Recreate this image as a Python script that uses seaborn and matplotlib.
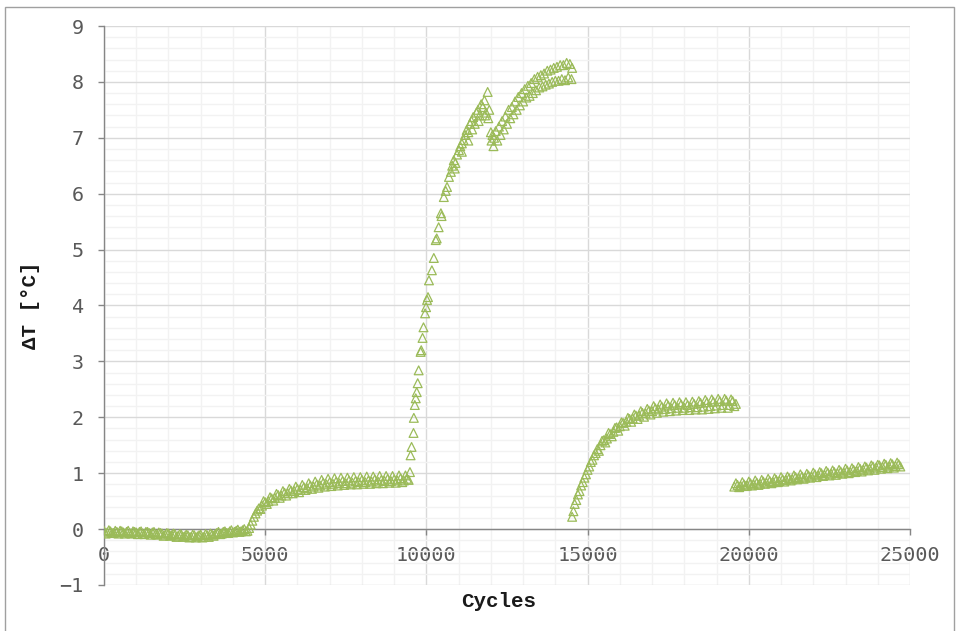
import pandas as pd
import matplotlib
matplotlib.use("Agg")
import matplotlib.pyplot as plt
from matplotlib.ticker import MultipleLocator
from matplotlib.patches import Rectangle
import seaborn as sns


# segment 1: baseline
x1 = [0, 100, 200, 300, 400, 500, 600, 700, 800, 900, 1000, 1100, 1200, 1300, 1400,
      1500, 1600, 1700, 1800, 1900, 2000, 2100, 2200, 2300, 2400, 2500, 2600, 2700,
      2800, 2900, 3000, 3100, 3200, 3300, 3400, 3500, 3600, 3700, 3800, 3900, 4000,
      4100, 4200, 4300, 4400, 4500]
y1 = [-0.03, -0.06, -0.04, -0.07, -0.05, -0.03, -0.06, -0.05, -0.07, -0.04, -0.06,
      -0.05, -0.08, -0.05, -0.07, -0.06, -0.09, -0.06, -0.08, -0.10, -0.08, -0.11,
      -0.09, -0.12, -0.10, -0.13, -0.11, -0.14, -0.11, -0.13, -0.10, -0.14, -0.11,
      -0.08, -0.12, -0.07, -0.09, -0.05, -0.07, -0.04, -0.06, -0.03, -0.05, -0.02,
      -0.04, 0.02]
x1b = [50, 150, 250, 350, 450, 550, 650, 750, 850, 950, 1050, 1150, 1250, 1350, 1450,
       1550, 1650, 1750, 1850, 1950, 2050, 2150, 2250, 2350, 2450, 2550, 2650, 2750,
       2850, 2950, 3050, 3150, 3250, 3350, 3450, 3550, 3650, 3750, 3850, 3950, 4050,
       4150, 4250, 4350, 4450]
y1b = [-0.08, -0.02, -0.07, -0.03, -0.08, -0.04, -0.08, -0.03, -0.08, -0.05, -0.09,
       -0.04, -0.09, -0.05, -0.10, -0.05, -0.10, -0.07, -0.12, -0.07, -0.12, -0.08,
       -0.14, -0.09, -0.14, -0.10, -0.15, -0.10, -0.15, -0.11, -0.15, -0.09, -0.14,
       -0.10, -0.09, -0.05, -0.08, -0.04, -0.07, -0.02, -0.05, -0.01, -0.04, 0.00,
       -0.03]

# segment 2
x2 = [4550, 4600, 4650, 4700, 4750, 4800, 4900, 5000, 5100, 5200, 5300, 5400, 5500,
      5600, 5700, 5800, 5900, 6000, 6100, 6200, 6300, 6400, 6500, 6600, 6700, 6800,
      6900, 7000, 7100, 7200, 7300, 7400, 7500, 7600, 7700, 7800, 7900, 8000, 8100,
      8200, 8300, 8400, 8500, 8600, 8700, 8800, 8900, 9000, 9100, 9200, 9300, 9400,
      9450]
y2 = [0.08, 0.15, 0.22, 0.28, 0.33, 0.37, 0.42, 0.48, 0.50, 0.55, 0.56, 0.61, 0.60,
      0.65, 0.64, 0.69, 0.68, 0.72, 0.70, 0.75, 0.73, 0.78, 0.76, 0.80, 0.78, 0.83,
      0.80, 0.84, 0.81, 0.85, 0.82, 0.86, 0.82, 0.87, 0.83, 0.86, 0.84, 0.88, 0.84,
      0.87, 0.85, 0.89, 0.85, 0.88, 0.86, 0.90, 0.86, 0.89, 0.87, 0.91, 0.87, 0.90,
      0.88]
x2b = [4850, 4950, 5050, 5150, 5250, 5350, 5450, 5550, 5650, 5750, 5850, 5950, 6050,
       6150, 6250, 6350, 6450, 6550, 6650, 6750, 6850, 6950, 7050, 7150, 7250, 7350,
       7450, 7550, 7650, 7750, 7850, 7950, 8050, 8150, 8250, 8350, 8450, 8550, 8650,
       8750, 8850, 8950, 9050, 9150, 9250, 9350]
y2b = [0.36, 0.50, 0.45, 0.57, 0.51, 0.63, 0.56, 0.68, 0.60, 0.72, 0.64, 0.76, 0.66,
       0.79, 0.70, 0.82, 0.72, 0.85, 0.74, 0.88, 0.76, 0.90, 0.77, 0.91, 0.78, 0.92,
       0.79, 0.92, 0.80, 0.93, 0.80, 0.93, 0.81, 0.94, 0.81, 0.94, 0.82, 0.95, 0.82,
       0.95, 0.83, 0.95, 0.83, 0.96, 0.84, 0.96]

# segment 3: steep rise
x3 = [9490, 9510, 9540, 9600, 9610, 9640, 9670, 9700, 9730, 9760, 9820, 9840, 9880,
      9910, 9960, 9990, 10020, 10050, 10080, 10170, 10230, 10290, 10320, 10380,
      10450, 10470, 10540, 10600, 10640, 10700, 10760, 10800, 10850, 10880, 10900,
      10950, 11010, 11050, 11100, 11100, 11150, 11200, 11250, 11300, 11300, 11350,
      11400, 11420, 11450, 11500, 11550, 11600, 11620, 11650, 11700, 11750, 11800,
      11820, 11850, 11900, 11920, 11950]
y3 = [1.02, 1.32, 1.47, 1.72, 1.99, 2.22, 2.34, 2.45, 2.61, 2.84, 3.17, 3.20, 3.42,
      3.61, 3.86, 3.97, 4.10, 4.15, 4.45, 4.63, 4.85, 5.17, 5.20, 5.40, 5.65, 5.60,
      5.94, 6.05, 6.12, 6.30, 6.39, 6.50, 6.60, 6.45, 6.55, 6.70, 6.78, 6.85, 6.90,
      6.75, 6.96, 7.05, 7.14, 7.10, 6.95, 7.25, 7.30, 7.15, 7.37, 7.25, 7.45, 7.50,
      7.30, 7.40, 7.60, 7.55, 7.67, 7.40, 7.45, 7.82, 7.35, 7.50]

# segment 4
x4 = [12000, 12020, 12050, 12080, 12100, 12150, 12200, 12250, 12300, 12350, 12400,
      12450, 12500, 12550, 12600, 12650, 12700, 12750, 12800, 12850, 12900, 12950,
      13000, 13050, 13100, 13150, 13200, 13250, 13300, 13350, 13400, 13450, 13500,
      13550, 13600, 13650, 13700, 13750, 13800, 13850, 13900, 13950, 14000, 14050,
      14100, 14150, 14200, 14250, 14300, 14350, 14400, 14450, 14500, 14520]
y4 = [7.10, 6.95, 7.05, 6.85, 7.00, 7.12, 6.95, 7.20, 7.05, 7.30, 7.15, 7.38, 7.25,
      7.50, 7.35, 7.55, 7.42, 7.65, 7.50, 7.73, 7.58, 7.80, 7.65, 7.87, 7.72, 7.93,
      7.75, 7.98, 7.80, 8.05, 7.85, 8.09, 7.90, 8.12, 7.92, 8.15, 7.95, 8.20, 7.97,
      8.22, 8.00, 8.25, 8.02, 8.27, 8.02, 8.30, 8.05, 8.30, 8.03, 8.34, 8.08, 8.32,
      8.05, 8.25]

# segment 5
x5 = [14520, 14560, 14600, 14650, 14700, 14750, 14800, 14850, 14900, 14950, 15000,
      15050, 15100, 15150, 15200, 15250, 15300, 15400, 15500, 15600, 15700, 15800,
      15900, 16000, 16100, 16200, 16300, 16400, 16500, 16600, 16700, 16800, 16900,
      17000, 17100, 17200, 17300, 17400, 17500, 17600, 17700, 17800, 17900, 18000,
      18100, 18200, 18300, 18400, 18500, 18600, 18700, 18800, 18900, 19000, 19100,
      19200, 19300, 19400, 19500, 19600]
y5 = [0.22, 0.32, 0.45, 0.52, 0.62, 0.68, 0.78, 0.84, 0.92, 0.98, 1.06, 1.12, 1.20,
      1.24, 1.32, 1.36, 1.43, 1.50, 1.59, 1.62, 1.70, 1.74, 1.82, 1.84, 1.90, 1.92,
      1.97, 1.98, 2.03, 2.03, 2.08, 2.07, 2.12, 2.11, 2.16, 2.14, 2.19, 2.15, 2.21,
      2.16, 2.22, 2.17, 2.23, 2.17, 2.22, 2.18, 2.24, 2.18, 2.26, 2.19, 2.27, 2.20,
      2.28, 2.21, 2.29, 2.22, 2.30, 2.22, 2.29, 2.24]
x5b = [15350, 15450, 15550, 15650, 15750, 15850, 15950, 16050, 16150, 16250, 16350,
       16450, 16550, 16650, 16750, 16850, 16950, 17050, 17150, 17250, 17350, 17450,
       17550, 17650, 17750, 17850, 17950, 18050, 18150, 18250, 18350, 18450, 18550,
       18650, 18750, 18850, 18950, 19050, 19150, 19250, 19350, 19450, 19550]
y5b = [1.40, 1.58, 1.55, 1.72, 1.66, 1.81, 1.76, 1.91, 1.85, 1.99, 1.92, 2.05, 1.97,
       2.11, 2.01, 2.15, 2.05, 2.20, 2.08, 2.23, 2.10, 2.25, 2.11, 2.26, 2.12, 2.27,
       2.13, 2.27, 2.13, 2.28, 2.14, 2.29, 2.14, 2.31, 2.15, 2.32, 2.16, 2.33, 2.17,
       2.33, 2.17, 2.32, 2.20]

# segment 6
x6 = [19550, 19650, 19750, 19850, 19950, 20050, 20150, 20250, 20350, 20450, 20550,
      20650, 20750, 20850, 20950, 21050, 21150, 21250, 21350, 21450, 21550, 21650,
      21750, 21850, 21950, 22050, 22150, 22250, 22350, 22450, 22550, 22650, 22750,
      22850, 22950, 23050, 23150, 23250, 23350, 23450, 23550, 23650, 23750, 23850,
      23950, 24050, 24150, 24250, 24350, 24450, 24550, 24650, 24700]
y6 = [0.76, 0.79, 0.77, 0.80, 0.78, 0.82, 0.80, 0.83, 0.81, 0.85, 0.83, 0.86, 0.84,
      0.88, 0.86, 0.89, 0.88, 0.91, 0.89, 0.93, 0.91, 0.94, 0.92, 0.96, 0.94, 0.98,
      0.96, 1.00, 0.97, 1.01, 0.99, 1.02, 1.00, 1.03, 1.01, 1.05, 1.02, 1.06, 1.04,
      1.08, 1.06, 1.10, 1.08, 1.12, 1.10, 1.14, 1.11, 1.15, 1.12, 1.16, 1.13, 1.16,
      1.12]
x6b = [19600, 19700, 19800, 19900, 20000, 20100, 20200, 20300, 20400, 20500, 20600,
       20700, 20800, 20900, 21000, 21100, 21200, 21300, 21400, 21500, 21600, 21700,
       21800, 21900, 22000, 22100, 22200, 22300, 22400, 22500, 22600, 22700, 22800,
       22900, 23000, 23100, 23200, 23300, 23400, 23500, 23600, 23700, 23800, 23900,
       24000, 24100, 24200, 24300, 24400, 24500, 24600]
y6b = [0.82, 0.75, 0.84, 0.77, 0.85, 0.78, 0.87, 0.79, 0.88, 0.81, 0.90, 0.82, 0.91,
       0.84, 0.93, 0.85, 0.94, 0.87, 0.96, 0.89, 0.98, 0.90, 0.99, 0.92, 1.01, 0.93,
       1.02, 0.95, 1.04, 0.96, 1.05, 0.97, 1.06, 0.99, 1.08, 1.00, 1.09, 1.02, 1.11,
       1.03, 1.12, 1.05, 1.14, 1.06, 1.15, 1.08, 1.17, 1.09, 1.18, 1.10, 1.19]

df = pd.DataFrame({
    'Cycles': x1 + x1b + x2 + x2b + x3 + x4 + x5 + x5b + x6 + x6b,
    'dT': y1 + y1b + y2 + y2b + y3 + y4 + y5 + y5b + y6 + y6b,
})

sns.set_theme(style="white")

fig = plt.figure(figsize=(9.57, 6.31), dpi=100)
ax = fig.add_axes([104 / 957, 1 - 585 / 631, 806 / 957, 559 / 631])

sns.scatterplot(data=df, x='Cycles', y='dT', ax=ax, marker='^', s=40,
                facecolor='none', edgecolor='#9BBB59', linewidth=0.9, zorder=3)

ax.set_xlim(0, 25000)
ax.set_ylim(-1, 9)
ax.xaxis.set_major_locator(MultipleLocator(5000))
ax.xaxis.set_minor_locator(MultipleLocator(1000))
ax.yaxis.set_major_locator(MultipleLocator(1))
ax.yaxis.set_minor_locator(MultipleLocator(0.2))
ax.grid(which='major', color='#d9d9d9', linewidth=1)
ax.grid(which='minor', color='#f2f2f2', linewidth=1)
ax.set_axisbelow(True)

for side in ['top', 'right']:
    ax.spines[side].set_visible(False)
ax.spines['bottom'].set_position(('data', 0))
for side in ['left', 'bottom']:
    ax.spines[side].set_color('#868686')
    ax.spines[side].set_linewidth(1)

ax.tick_params(which='major', length=4.5, width=1, color='#868686',
               labelsize=14.5, labelcolor='#595959', direction='out',
               bottom=True, left=True)
ax.tick_params(axis='x', which='major', pad=8)
ax.tick_params(axis='y', which='major', pad=10)
ax.tick_params(which='minor', length=0)

ax.set_xticks([0, 5000, 10000, 15000, 20000, 25000])
ax.set_xticklabels(['0', '5000', '10000', '15000', '20000', '25000'],
                   family='DejaVu Sans Mono')
ax.set_yticks(range(-1, 10))
ax.set_yticklabels(['\u22121'] + [str(i) for i in range(0, 10)],
                   family='DejaVu Sans Mono')

ax.set_xlabel('Cycles', fontsize=15, fontweight='bold',
              family=['Liberation Mono', 'DejaVu Sans Mono'], color='#1a1a1a')
ax.set_ylabel('\u0394T [°C]', fontsize=15, fontweight='bold',
              family=['Liberation Mono', 'DejaVu Sans Mono'], color='#1a1a1a')
ax.xaxis.set_label_coords(0.49, -0.012)
ax.yaxis.set_label_coords(-0.079, 0.5)

fig.patches.append(Rectangle((4.5 / 957, -0.01), 949 / 957, 1 - 6.5 / 631 + 0.01,
                             transform=fig.transFigure, fill=False,
                             edgecolor='#a0a0a0', linewidth=1))

fig.savefig('out.png', dpi=100)
